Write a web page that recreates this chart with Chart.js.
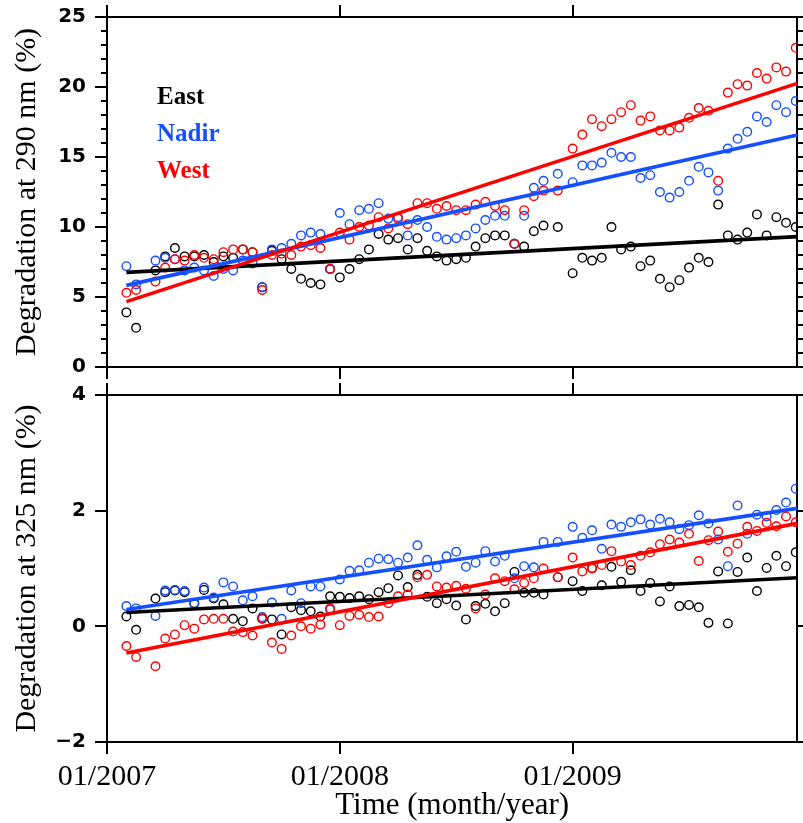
<!DOCTYPE html>
<html><head><meta charset="utf-8">
<script src="https://cdn.jsdelivr.net/npm/chart.js@4/dist/chart.umd.min.js"></script>
<style>
html,body{margin:0;padding:0;background:#fff;}
#wrap{position:relative;width:803px;height:823px;overflow:hidden;background:#fff;}
canvas{position:absolute;left:0;}
#c1{top:0;} #c2{top:381px;}
</style></head><body>
<div id="wrap"><canvas id="c1" width="803" height="381"></canvas><canvas id="c2" width="803" height="442"></canvas></div>
<script>
// Observation dates (semi-monthly)
const dates = [
 '2007-02-01','2007-02-16',
 '2007-03-16','2007-04-01','2007-04-16','2007-05-01','2007-05-16','2007-06-01','2007-06-16','2007-07-01','2007-07-16','2007-08-01','2007-08-16',
 '2007-09-01','2007-09-16','2007-10-01','2007-10-16','2007-11-01','2007-11-16','2007-12-01','2007-12-16',
 '2008-01-01','2008-01-16','2008-02-01','2008-02-16','2008-03-01','2008-03-16','2008-04-01','2008-04-16','2008-05-01','2008-05-16','2008-06-01','2008-06-16',
 '2008-07-01','2008-07-16','2008-08-01','2008-08-16','2008-09-01','2008-09-16','2008-10-01','2008-10-16','2008-11-01','2008-11-16',
 '2008-12-08',
 '2009-01-01','2009-01-16','2009-02-01','2009-02-16','2009-03-01','2009-03-16','2009-04-01','2009-04-16','2009-05-01','2009-05-16','2009-06-01','2009-06-16',
 '2009-07-01','2009-07-16','2009-08-01','2009-08-16','2009-09-01','2009-09-16','2009-10-01','2009-10-16','2009-11-01','2009-11-16','2009-12-01','2009-12-16'
];

// Degradation at 290 nm (%)
const east290 = [
 3.9, 2.8,
 6.9, 7.9, 8.5, 7.9, 7.9, 8.0, 7.5, 7.9, 7.8, 8.4, 8.2,
 5.7, 8.3, 7.7, 7.0, 6.3, 6.0, 5.9, 7.0,
 6.4, 7.0, 7.7, 8.4, 9.5, 9.1, 9.2, 8.4, 9.2, 8.3, 7.9, 7.6,
 7.7, 7.8, 8.6, 9.2, 9.4, 9.4, 8.8, 8.6, 9.7, 10.1,
 10.0,
 6.7, 7.8, 7.6, 7.8, 10.0, 8.4, 8.6, 7.2, 7.6, 6.3, 5.7, 6.2,
 7.1, 7.8, 7.5, 11.6, 9.4, 9.1, 9.6, 10.9, 9.4, 10.7, 10.3, 10.0
];
const nadir290 = [
 7.2, 5.9,
 7.6, 7.8, 7.7, 6.9, 7.1, 6.9, 6.5, 7.0, 6.9, 7.6, 7.4,
 5.7, 8.4, 8.5, 8.8, 9.4, 9.6, 9.5, 7.0,
 11.0, 10.2, 11.2, 11.3, 11.7, 10.6, 10.7, 9.4, 10.5, 10.0, 9.3, 9.1,
 9.2, 9.4, 9.9, 10.5, 10.8, 10.8, 8.8, 10.8, 12.8, 13.3,
 13.8,
 13.2, 14.4, 14.4, 14.6, 15.3, 15.0, 15.0, 13.5, 13.7, 12.5, 12.1, 12.5,
 13.3, 14.3, 13.9, 12.6, 15.6, 16.3, 16.8, 17.9, 17.5, 18.7, 18.2, 19.0
];
const west290 = [
 5.3, 5.5,
 6.1, 7.1, 7.7, 7.6, 8.0, 7.8, 7.7, 8.2, 8.4, 8.4, 8.2,
 5.5, 8.0, 8.1, 8.0, 8.6, 8.7, 8.5, 7.0,
 9.6, 9.1, 10.0, 10.1, 10.7, 9.9, 10.6, 10.2, 11.7, 11.7, 11.3, 11.5,
 11.2, 11.2, 11.6, 11.8, 11.5, 11.2, 8.8, 11.2, 12.2, 12.6,
 12.6,
 15.6, 16.6, 17.7, 17.2, 17.7, 18.2, 18.7, 17.6, 17.9, 16.9, 16.9, 17.1,
 17.8, 18.5, 18.3, 13.3, 19.6, 20.2, 20.1, 21.0, 20.6, 21.4, 21.1, 22.8
];

// Degradation at 325 nm (%)
const east325 = [
 0.17, -0.06,
 0.48, 0.59, 0.62, 0.59, 0.40, 0.63, 0.48, 0.38, 0.13, 0.09, 0.31,
 0.13, 0.12, -0.14, 0.33, 0.28, 0.26, 0.17, 0.52,
 0.51, 0.49, 0.52, 0.47, 0.59, 0.66, 0.88, 0.68, 0.89, 0.51, 0.40, 0.47,
 0.36, 0.12, 0.35, 0.39, 0.26, 0.40, 0.94, 0.58, 0.58, 0.55,
 0.85,
 0.78, 0.61, 1.01, 0.71, 1.03, 0.77, 0.97, 0.61, 0.75, 0.43, 0.69, 0.35,
 0.37, 0.33, 0.06, 0.95, 0.05, 0.94, 1.19, 0.61, 1.01, 1.22, 1.04, 1.28
];
const nadir325 = [
 0.35, 0.31,
 0.18, 0.62, 0.63, 0.61, 0.39, 0.67, 0.50, 0.76, 0.69, 0.45, 0.52,
 0.16, 0.41, 0.13, 0.62, 0.40, 0.69, 0.69, 0.29,
 0.81, 0.96, 0.97, 1.10, 1.17, 1.16, 1.10, 1.19, 1.40, 1.15, 1.02, 1.21,
 1.29, 1.03, 1.10, 1.30, 1.12, 1.22, 0.83, 1.04, 1.02, 1.46,
 1.46,
 1.72, 1.53, 1.66, 1.34, 1.76, 1.72, 1.80, 1.85, 1.76, 1.86, 1.80, 1.68,
 1.75, 1.92, 1.78, 1.50, 1.04, 2.09, 1.60, 1.93, 1.90, 2.01, 2.14, 2.38
];
const west325 = [
 -0.34, -0.53,
 -0.69, -0.21, -0.14, 0.02, -0.04, 0.12, 0.13, 0.13, -0.09, -0.10, -0.16,
 0.14, -0.28, -0.39, -0.16, 0.00, -0.04, 0.03, 0.31,
 0.02, 0.18, 0.20, 0.16, 0.17, 0.40, 0.52, 0.55, 0.85, 0.89, 0.69, 0.67,
 0.70, 0.65, 0.31, 0.55, 0.83, 0.78, 0.64, 0.75, 0.83, 1.00,
 0.85,
 1.19, 0.95, 1.00, 1.06, 1.30, 1.12, 1.06, 1.22, 1.28, 1.42, 1.50, 1.45,
 1.60, 1.13, 1.49, 1.64, 1.29, 1.43, 1.72, 1.65, 1.79, 1.73, 1.90, 1.80
];

// Linear-fit lines (start / end of the drawn segment)
const fitTimes = [2007.0833, 2009.965];
const eastFit290 = [6.76, 9.31];
const nadirFit290 = [5.83, 16.57];
const westFit290 = [4.67, 20.26];
const eastFit325 = [0.24, 0.84];
const nadirFit325 = [0.29, 2.04];
const westFit325 = [-0.46, 1.78];

// Axes
const xRange = [2007, 2009.965];
const xTicks = [2007, 2008, 2009];
const xTickLabels = ['01/2007', '01/2008', '01/2009'];
const yRange290 = [0, 25];
const yTicks290 = [0, 5, 10, 15, 20, 25];
const yMinor290 = [0,1,2,3,4,5,6,7,8,9,10,11,12,13,14,15,16,17,18,19,20,21,22,23,24,25];
const yRange325 = [-2, 4];
const yTicks325 = [-2, 0, 2, 4];

const seriesNames = ['East', 'Nadir', 'West'];
const seriesColors = ['#000000', '#1450ff', '#ff0000'];

function toYear(s) { const p = s.split('-').map(Number); return p[0] + (p[1] - 1) / 12 + (p[2] - 1) / 360; }
const times = dates.map(toYear);

const legendPlugin = {
  id: 'seriesLegend',
  afterDatasetsDraw(chart, args, opts) {
    if (!opts || !opts.show) return;
    const ctx = chart.ctx, ca = chart.chartArea;
    ctx.save();
    ctx.font = 'bold 25px "Liberation Serif"';
    ctx.textAlign = 'left';
    ctx.textBaseline = 'middle';
    seriesNames.forEach((n, i) => {
      ctx.fillStyle = seriesColors[i];
      ctx.fillText(n, ca.left + opts.dx, ca.top + opts.dy + i * opts.gap);
    });
    ctx.restore();
  }
};

function setTicks(list) { return s => { s.ticks = list.map(v => ({ value: v })); }; }
const fmtY = v => (v < 0 ? '\u2212' + Math.abs(v) : String(v));
function fixSize(prop, val) {
  return s => { s[prop] = val; s.paddingTop = 0; s.paddingBottom = 0; s.paddingLeft = 0; s.paddingRight = 0; };
}

function makePanel(canvasId, p) {
  const series = [p.east, p.nadir, p.west];
  const fits = [p.eastFit, p.nadirFit, p.westFit];
  const datasets = [];
  [2, 1, 0].forEach((i, k) => {
    datasets.push({
      type: 'line', label: seriesNames[i] + ' fit',
      data: fitTimes.map((t, j) => ({ x: t, y: fits[i][j] })),
      borderColor: seriesColors[i], borderWidth: 3.6, pointRadius: 0, fill: false, tension: 0,
      order: k
    });
  });
  [2, 1, 0].forEach((i, k) => {
    datasets.push({
      type: 'scatter', label: seriesNames[i],
      data: times.map((t, j) => ({ x: t, y: series[i][j] })),
      borderColor: seriesColors[i], backgroundColor: 'rgba(0,0,0,0)',
      pointRadius: 4.3, pointBorderWidth: 1.4, showLine: false,
      order: 3 + k
    });
  });

  const tickGrid = len => ({ display: true, drawOnChartArea: false, drawTicks: true, tickLength: len, color: '#000', lineWidth: 2 });
  const border = { display: true, color: '#000', width: 2 };

  const scales = {
    x: {
      type: 'linear', position: 'bottom', min: xRange[0], max: xRange[1],
      afterBuildTicks: setTicks(xTicks),
      ticks: {
        display: p.showXLabels, maxRotation: 0, autoSkip: false, padding: 5,
        color: '#000', font: { family: '"Liberation Serif"', size: 30 },
        callback: v => { const i = xTicks.indexOf(v); return i >= 0 ? xTickLabels[i] : ''; }
      },
      grid: tickGrid(12), border: border,
      title: p.showXLabels ? { display: true, text: 'Time (month/year)', color: '#000',
        font: { family: '"Liberation Serif"', size: 31, lineHeight: 1 }, padding: { top: 0, bottom: 2 } } : { display: false },
      afterFit: fixSize('height', p.bottomH)
    },
    x2: {
      type: 'linear', position: 'top', min: xRange[0], max: xRange[1],
      afterBuildTicks: setTicks(xTicks),
      ticks: { display: false },
      grid: tickGrid(12), border: border,
      afterFit: fixSize('height', p.topH)
    },
    y: {
      type: 'linear', position: 'left', weight: 2, min: p.yRange[0], max: p.yRange[1],
      afterBuildTicks: setTicks(p.yTicks),
      ticks: { color: '#000', padding: 9, font: { family: '"DejaVu Sans"', size: 20, weight: 'bold' }, callback: fmtY },
      grid: tickGrid(12), border: border,
      title: { display: true, text: p.yTitle, color: '#000',
        font: { family: '"Liberation Serif"', size: 30, lineHeight: 1.2 }, padding: { top: 9, bottom: 0 } },
      afterFit: fixSize('width', 107)
    },
    y2: {
      type: 'linear', position: 'right', min: p.yRange[0], max: p.yRange[1],
      afterBuildTicks: setTicks(p.yRight),
      ticks: { display: false },
      grid: tickGrid(8), border: border,
      afterFit: fixSize('width', 3)
    }
  };
  if (p.yMinor) {
    scales.yMinor = {
      type: 'linear', position: 'left', weight: 0, min: p.yRange[0], max: p.yRange[1],
      afterBuildTicks: setTicks(p.yMinor),
      ticks: { display: false },
      grid: { display: true, drawOnChartArea: false, drawTicks: true, tickLength: 6, color: '#000', lineWidth: 2 },
      border: border,
      afterFit: fixSize('width', 0)
    };
  }

  return new Chart(document.getElementById(canvasId), {
    type: 'scatter',
    data: { datasets },
    options: {
      responsive: false, animation: false, events: [],
      layout: { padding: 0 },
      plugins: {
        legend: { display: false }, tooltip: { enabled: false }, title: { display: false },
        seriesLegend: p.legend
      },
      scales
    },
    plugins: [legendPlugin]
  });
}

makePanel('c1', {
  east: east290, nadir: nadir290, west: west290,
  eastFit: eastFit290, nadirFit: nadirFit290, westFit: westFit290,
  yRange: yRange290, yTicks: yTicks290, yMinor: yMinor290, yRight: yMinor290,
  yTitle: 'Degradation at 290 nm (%)',
  topH: 17, bottomH: 14, showXLabels: false,
  legend: { show: true, dx: 50, dy: 81, gap: 37 }
});
makePanel('c2', {
  east: east325, nadir: nadir325, west: west325,
  eastFit: eastFit325, nadirFit: nadirFit325, westFit: westFit325,
  yRange: yRange325, yTicks: yTicks325, yMinor: null, yRight: yTicks325,
  yTitle: 'Degradation at 325 nm (%)',
  topH: 14, bottomH: 81, showXLabels: true,
  legend: { show: false }
});
</script>
</body></html>
